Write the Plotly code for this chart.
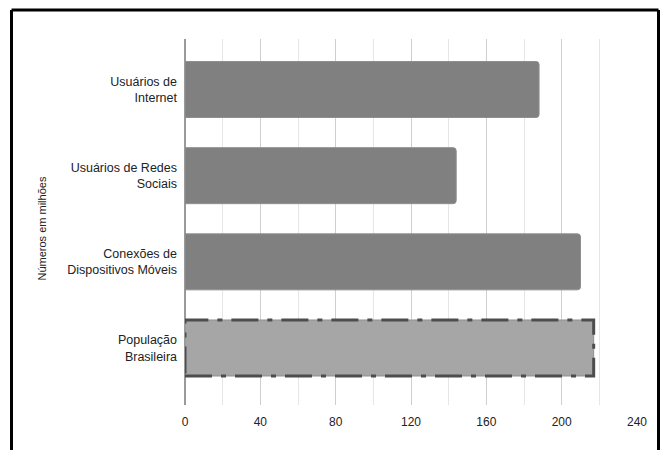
import plotly.graph_objects as go

# Categories listed from top to bottom
categorias = [
    "Usuários de<br>Internet",
    "Usuários de Redes<br>Sociais",
    "Conexões de<br>Dispositivos Móveis",
    "População<br>Brasileira",
]
valores = [188, 144, 210, 217]  # milhões
cores = ["#808080", "#808080", "#808080", "#a6a6a6"]
ticks_x = [0, 40, 80, 120, 160, 200, 240]
titulo_y = "Números em milhões"

# Plotly draws category axes bottom-up, so reverse the order
cats = categorias[::-1]
vals = valores[::-1]
cols = cores[::-1]

largura_barra = 0.65

fig = go.Figure()
fig.add_trace(go.Bar(
    x=vals,
    y=cats,
    orientation="h",
    width=largura_barra,
    marker=dict(color=cols, line=dict(color="#8f8f8f", width=1)),
    hoverinfo="x+y",
))

# Dash-dot outline around the population bar
idx_pop = cats.index(categorias[-1])
fig.add_shape(
    type="rect", xref="x", yref="y",
    x0=0, x1=valores[-1],
    y0=idx_pop - largura_barra / 2, y1=idx_pop + largura_barra / 2,
    line=dict(color="#4d4d4d", width=3, dash="27px,9px,5px,9px"),
    fillcolor="rgba(0,0,0,0)",
    layer="above",
)

# Black frame around the chart (left, top, right)
W, H = 662, 450
ML, MR, MT, MB = 185, 25, 39, 45
pw, ph = W - ML - MR, H - MT - MB

def px(xp):
    return (xp - ML) / pw

def py(yp):
    return (H - MB - yp) / ph

frame = dict(color="black", width=3)
fig.add_shape(type="line", xref="paper", yref="paper",
              x0=px(11.5), x1=px(11.5), y0=py(10), y1=py(460), line=frame)
fig.add_shape(type="line", xref="paper", yref="paper",
              x0=px(11.5), x1=px(658.5), y0=py(10), y1=py(10), line=frame)
fig.add_shape(type="line", xref="paper", yref="paper",
              x0=px(658.5), x1=px(658.5), y0=py(10), y1=py(460), line=frame)

fig.add_annotation(
    text=titulo_y, textangle=-90,
    xref="paper", yref="paper",
    x=px(41.5), y=py(229), xanchor="center", yanchor="middle",
    showarrow=False,
    font=dict(size=11, color="#222222"),
)

fig.update_layout(
    width=W, height=H,
    margin=dict(l=ML, r=MR, t=MT, b=MB),
    paper_bgcolor="white",
    plot_bgcolor="white",
    font=dict(family="Liberation Sans, Arial, sans-serif", color="#222222"),
    showlegend=False,
    barcornerradius=3,
    xaxis=dict(
        range=[0, 240],
        tickvals=ticks_x,
        ticktext=[str(t) for t in ticks_x],
        showgrid=True,
        gridcolor="#cfcfcf",
        gridwidth=1,
        minor=dict(dtick=20, tick0=0, showgrid=True, gridcolor="#e6e6e6", gridwidth=1),
        zeroline=True,
        zerolinecolor="#9a9a9a",
        zerolinewidth=1.5,
        showline=False,
        ticks="",
        ticklabelstandoff=8,
        tickfont=dict(size=12, color="#222222"),
        fixedrange=True,
    ),
    yaxis=dict(
        type="category",
        categoryorder="array",
        categoryarray=cats,
        range=[-0.6615, 3.586],
        showgrid=False,
        zeroline=False,
        showline=False,
        ticks="",
        ticklabelstandoff=7,
        tickfont=dict(size=12.5, color="#222222"),
        fixedrange=True,
    ),
)

fig.write_html("out.html")
